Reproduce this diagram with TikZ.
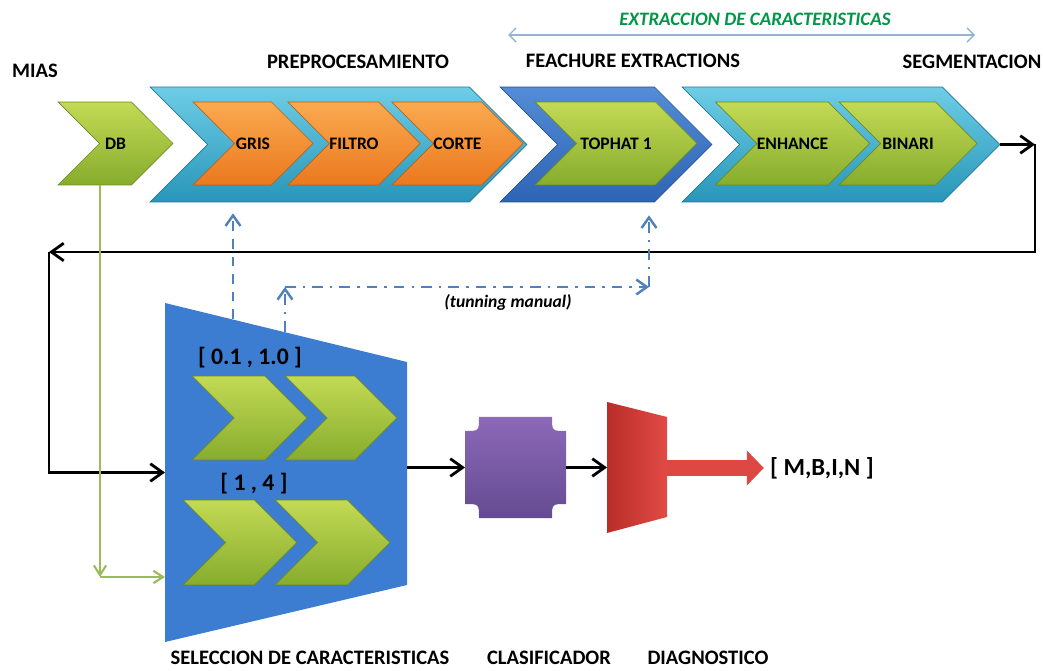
\documentclass[tikz,border=0pt]{standalone}
\usepackage{fontspec}
\setmainfont{Carlito}
\usetikzlibrary{shapes.symbols, arrows.meta, positioning, calc}
\definecolor{aquatop}{RGB}{110,205,230}
\definecolor{aquabot}{RGB}{40,150,185}
\definecolor{aquaedge}{RGB}{30,120,150}
\definecolor{bluetop}{RGB}{85,140,215}
\definecolor{bluebot}{RGB}{45,100,180}
\definecolor{orangetop}{RGB}{250,170,80}
\definecolor{orangebot}{RGB}{235,120,30}
\definecolor{greentop}{RGB}{195,218,85}
\definecolor{greenbot}{RGB}{135,172,45}
\definecolor{selblue}{RGB}{60,125,210}
\definecolor{purptop}{RGB}{140,105,185}
\definecolor{purpbot}{RGB}{100,75,145}
\definecolor{reddark}{RGB}{185,45,40}
\definecolor{redlight}{RGB}{225,75,70}
\definecolor{tuneblue}{RGB}{79,129,189}
\definecolor{dbgreen}{RGB}{155,187,89}
\definecolor{spangray}{RGB}{149,179,215}
\definecolor{exttext}{RGB}{0,150,70}

\begin{document}
\begin{tikzpicture}[x=0.02cm, y=-0.02cm,
  chev/.style={signal, signal from=west, signal to=east, inner sep=0pt,
    font=\fontsize{10}{12}\selectfont\bfseries},
  bigchev/.style={chev, minimum height=2.3cm},
  smallchev/.style={chev, minimum height=1.66cm},
  lowchev/.style={chev, minimum height=1.68cm, greenfill},
  aquafill/.style={top color=aquatop, bottom color=aquabot, draw=aquaedge, line width=0.4pt},
  bluefill/.style={top color=bluetop, bottom color=bluebot, draw=bluebot!80!black, line width=0.4pt},
  orangefill/.style={top color=orangetop, bottom color=orangebot, draw=orangebot!80!black, line width=0.4pt},
  greenfill/.style={top color=greentop, bottom color=greenbot, draw=greenbot!80!black, line width=0.4pt},
  anchorbox/.style={inner sep=0pt, outer sep=0pt},
  headlbl/.style={font=\fontsize{11.7}{14}\selectfont\bfseries},
  rangelbl/.style={font=\fontsize{13.5}{16}\selectfont\bfseries},
  flow/.style={line width=1.6pt, -{Straight Barb[length=7pt, width=10pt]}},
  gflow/.style={dbgreen, line width=1.2pt, -{Straight Barb[length=5.5pt, width=7pt]}},
  tunedash/.style={tuneblue, line width=1.4pt, dash pattern=on 5.5pt off 4.5pt,
    -{Straight Barb[length=6pt, width=8.5pt]}},
  tunedot/.style={tuneblue, line width=1.4pt, dash pattern=on 6pt off 4pt on 1.5pt off 4pt,
    -{Straight Barb[length=6pt, width=8.5pt]}},
  spanline/.style={spangray, line width=0.8pt, {Straight Barb[length=4pt, width=8pt]}-{Straight Barb[length=4pt, width=8pt]}}
]
  \useasboundingbox (0,0) rectangle (1043,671);

  % Top row: outer chevrons
  \node[bigchev, aquafill, minimum width=7.54cm] (pre) at (338.5,144.5) {};
  \node[bigchev, bluefill, minimum width=4.24cm] (top) at (606,144.5) {};
  \node[bigchev, aquafill, minimum width=6.36cm] (seg) at (841,144.5) {};

  % Top row: inner chevrons
  \node[smallchev, greenfill, minimum width=2.3cm] (db) at (115.5,143.5) {DB};
  \node[smallchev, orangefill, minimum width=2.4cm] (gris) at (253,143.5) {GRIS};
  \node[smallchev, orangefill, minimum width=2.44cm] (filtro) at (354,143.5) {FILTRO};
  \node[smallchev, orangefill, minimum width=2.42cm] (corte) at (457.5,143.5) {CORTE};
  \node[smallchev, greenfill, minimum width=3.24cm] (tophat) at (616,143.5) {TOPHAT 1};
  \node[smallchev, greenfill, minimum width=2.78cm] (enhance) at (792.5,143.5) {ENHANCE};
  \node[smallchev, greenfill, minimum width=2.76cm] (binari) at (908,143.5) {BINARI};

  % Titles
  \node[headlbl] (miasl) at (35,71) {MIAS};
  \node[headlbl] (prel) at (358,62) {PREPROCESAMIENTO};
  \node[headlbl] (featl) at (633,61) {FEACHURE EXTRACTIONS};
  \node[headlbl] (segl) at (972,62) {SEGMENTACION};

  % Extraction span
  \coordinate (extL) at (508,35);
  \coordinate (extR) at (975,35);
  \draw[spanline] (extL) -- (extR);
  \node[font=\fontsize{10.8}{12}\selectfont\bfseries\itshape, exttext] (extl) at (755,19) {EXTRACCION DE CARACTERISTICAS};

  % Feature selection block
  \fill[selblue] (165,303) -- (407,362) -- (407,585) -- (165,642) -- cycle;
  \node[anchorbox, minimum width=4.84cm, minimum height=6.78cm] (sel) at (286,472.5) {};
  \node[lowchev, minimum width=2.3cm] (s1) at (249.5,418) {};
  \node[lowchev, minimum width=2.24cm] (s2) at (341,418) {};
  \node[lowchev, minimum width=2.28cm, minimum height=1.7cm] (s3) at (240,542.5) {};
  \node[lowchev, minimum width=2.3cm, minimum height=1.7cm] (s4) at (332.5,542.5) {};
  \node[rangelbl] (r1) at (250,358) {[ 0.1 , 1.0 ]};
  \node[rangelbl] (r2) at (254,484) {[ 1 , 4 ]};

  % Classifier
  \shade[top color=purptop, bottom color=purpbot]
    (479,417) -- (552,417) .. controls (552,431) .. (566,431) -- (566,504)
    .. controls (552,504) .. (552,518) -- (479,518) .. controls (479,504) .. (465,504)
    -- (465,431) .. controls (479,431) .. cycle;
  \node[anchorbox, minimum width=2.02cm, minimum height=2.02cm] (cls) at (515.5,467.5) {};

  % Diagnosis
  \shade[left color=reddark, right color=redlight] (607,402) -- (667,417) -- (667,517) -- (607,533) -- cycle;
  \node[anchorbox, minimum width=1.2cm, minimum height=2.62cm] (dia) at (637,467.5) {};
  \node[rangelbl, font=\fontsize{14}{16}\selectfont\bfseries] (out) at (822,468) {[ M,B,I,N ]};
  \draw[line width=0.34cm, redlight!90!reddark, -{Triangle[length=0.34cm, width=0.68cm]}] (dia.east |- out) -- (out.west);

  % Bottom titles
  \node[headlbl] (sell) at (310,658) {SELECCION DE CARACTERISTICAS};
  \node[headlbl] (clsl) at (549,658) {CLASIFICADOR};
  \node[headlbl] (dial) at (708,658) {DIAGNOSTICO};

  % Feedback loop
  \coordinate (segR) at (1035,144.5);
  \coordinate (loopR) at (1035,252);
  \coordinate (loopL) at (49,252);
  \draw[flow] (seg.east) -- (segR);
  \draw[flow] (segR) -- (loopR) -- (loopL);
  \draw[flow] (loopL) -- (loopL |- sel.west) -- (sel.west);
  \draw[flow] (sel.east |- cls.west) -- (cls.west);
  \draw[flow] (cls.east) -- (dia.west);

  % Database link
  \coordinate (gturn) at (100,577);
  \draw[gflow] (db.south -| gturn) -- (gturn);
  \draw[gflow] (gturn) -- (gturn -| sel.west);

  % Manual tuning
  \coordinate (tuneA) at (233,319);
  \coordinate (tuneB) at (285,332);
  \coordinate (tuneC) at (285,287);
  \coordinate (tuneD) at (649,287);
  \draw[tunedash, shorten >=0.22cm] (tuneA) -- (tuneA |- pre.south);
  \draw[tunedot] (tuneB) -- (tuneC);
  \draw[tunedot] (tuneC) -- (tuneD);
  \draw[tunedot, shorten >=0.26cm] (tuneD) -- (tuneD |- top.south);
  \node[font=\fontsize{10}{12}\selectfont\bfseries\itshape] (tunel) at (508,302) {(tunning manual)};
\end{tikzpicture}
\end{document}
